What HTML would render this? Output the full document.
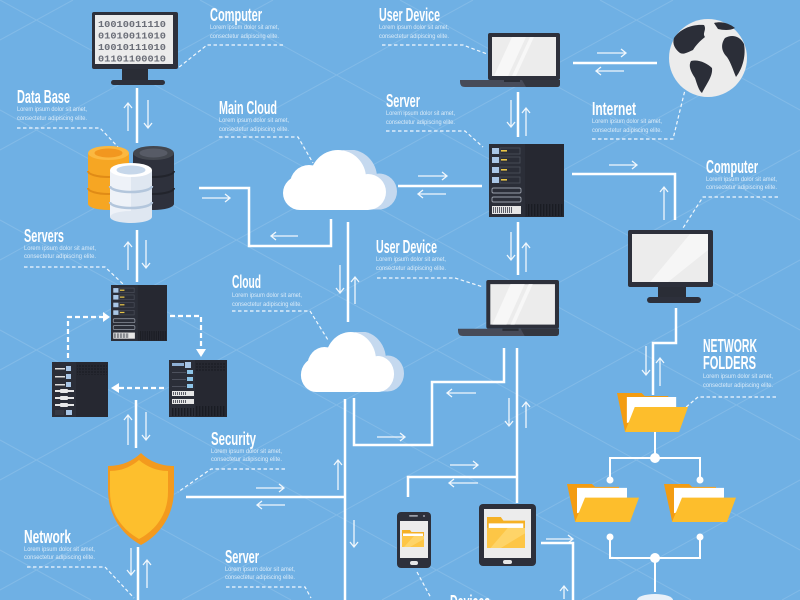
<!DOCTYPE html>
<html>
<head>
<meta charset="utf-8">
<style>
html,body{margin:0;padding:0;width:800px;height:600px;overflow:hidden;background:#6fb0e4;position:relative;}
svg{display:block;overflow:hidden;position:absolute;left:0;top:0;}
.ln{stroke:#fff;stroke-width:2.5;fill:none;stroke-linejoin:miter;}
.ar{stroke:#fff;stroke-width:1.3;fill:none;opacity:.9;}
.dl{stroke:#fff;stroke-width:1.2;fill:none;stroke-dasharray:3.5 2.5;opacity:.9;}
.ds{stroke:#fff;stroke-width:2.2;fill:none;stroke-dasharray:5 3;}
.t{fill:#fff;font-family:"Liberation Sans Narrow","Liberation Sans",sans-serif;font-weight:700;font-size:18px;}
.l{fill:#fff;opacity:.75;font-family:"Liberation Sans Narrow","Liberation Sans",sans-serif;font-size:6.5px;}
.bin{fill:#6b6e78;font-family:"Liberation Mono",monospace;font-weight:700;font-size:9.5px;}
#dev{position:absolute;left:450px;top:588px;width:60px;height:12px;overflow:hidden;}
#dev span{display:block;width:70px;height:12px;color:#fff;font-family:"Liberation Sans",sans-serif;font-weight:700;font-size:18px;line-height:28px;white-space:nowrap;transform:scaleX(0.59);transform-origin:0 0;}
</style>
</head>
<body>
<svg width="800" height="600" viewBox="0 0 800 600" xmlns="http://www.w3.org/2000/svg">
<defs>
  <clipPath id="frame"><rect x="0" y="0" width="800" height="600"/></clipPath>
  <pattern id="vent" width="3" height="20" patternUnits="userSpaceOnUse"><rect width="1.4" height="20" fill="#1a1c23"/></pattern>
  <pattern id="grid" width="3" height="3" patternUnits="userSpaceOnUse"><rect width="2" height="2" fill="#1f2129"/></pattern>
  <pattern id="bcs" width="2" height="20" patternUnits="userSpaceOnUse"><rect width="0.8" height="20" fill="#3a3d48"/></pattern>

  <symbol id="srvA" viewBox="0 0 75 73" preserveAspectRatio="none">
    <rect width="75" height="73" fill="#2b2e38"/>
    <rect x="36" width="39" height="73" fill="#262831"/>
    <rect x="37" y="60" width="37" height="12" fill="url(#vent)"/>
    <g>
      <rect x="3" y="4" width="7" height="6" fill="#a9c6e6"/><rect x="11" y="4" width="20" height="6" fill="none" stroke="#4d515d" stroke-width=".8"/><rect x="12" y="6" width="6" height="1.6" fill="#e8c547"/>
      <rect x="3" y="13" width="7" height="6" fill="#a9c6e6"/><rect x="11" y="13" width="20" height="6" fill="none" stroke="#4d515d" stroke-width=".8"/><rect x="12" y="15" width="6" height="1.6" fill="#e8c547"/>
      <rect x="3" y="23" width="7" height="6" fill="#a9c6e6"/><rect x="11" y="23" width="20" height="6" fill="none" stroke="#4d515d" stroke-width=".8"/><rect x="12" y="25" width="6" height="1.6" fill="#e8c547"/>
      <rect x="3" y="33" width="7" height="6" fill="#a9c6e6"/><rect x="11" y="33" width="20" height="6" fill="none" stroke="#4d515d" stroke-width=".8"/><rect x="12" y="35" width="6" height="1.6" fill="#e8c547"/>
    </g>
    <rect x="3" y="44" width="29" height="5" rx="1.5" fill="none" stroke="#9aa0ab" stroke-width=".9"/>
    <rect x="3" y="53" width="29" height="5" rx="1.5" fill="none" stroke="#9aa0ab" stroke-width=".9"/>
    <rect x="3" y="62" width="29" height="8" fill="#e6e6e6"/>
    <rect x="4" y="63" width="20" height="6" fill="url(#bcs)"/>
  </symbol>

  <symbol id="srvB" viewBox="0 0 56 55" preserveAspectRatio="none">
    <rect width="56" height="55" fill="#2b2e38"/>
    <rect x="24" width="32" height="55" fill="#262831"/>
    <rect x="25" y="2" width="30" height="11" fill="url(#grid)"/>
    <rect x="3" y="6" width="10" height="1.5" fill="#ddd"/><rect x="14" y="4" width="5" height="5" fill="#a9c6e6"/>
    <rect x="3" y="14" width="10" height="1.5" fill="#ddd"/><rect x="14" y="12" width="5" height="5" fill="#a9c6e6"/>
    <rect x="3" y="22" width="10" height="1.5" fill="#ddd"/><rect x="14" y="20" width="5" height="5" fill="#a9c6e6"/>
    <rect x="3" y="28" width="19" height="2" fill="#e8e8e8"/><rect x="8" y="27" width="8" height="4" rx="1" fill="#e8e8e8"/>
    <rect x="3" y="35" width="19" height="2" fill="#e8e8e8"/><rect x="8" y="34" width="8" height="4" rx="1" fill="#e8e8e8"/>
    <rect x="3" y="42" width="19" height="2" fill="#e8e8e8"/><rect x="8" y="41" width="8" height="4" rx="1" fill="#e8e8e8"/>
    <rect x="3" y="48" width="9" height="5" fill="#363944"/><rect x="14" y="48" width="6" height="5" fill="#a9c6e6"/>
  </symbol>

  <symbol id="srvC" viewBox="0 0 58 57" preserveAspectRatio="none">
    <rect width="58" height="57" fill="#2b2e38"/>
    <rect x="26" width="32" height="57" fill="#262831"/>
    <rect x="27" y="2" width="30" height="9" fill="url(#grid)"/>
    <rect x="27" y="46" width="30" height="10" fill="url(#vent)"/>
    <rect x="3" y="3" width="12" height="3" fill="#8fb0d5"/><rect x="16" y="2" width="6" height="6" fill="#a9c6e6"/>
    <rect x="3" y="12" width="14" height="1" fill="#4d515d"/><rect x="18" y="10" width="6" height="4" fill="#8ec5e8"/>
    <rect x="3" y="19" width="14" height="1" fill="#4d515d"/><rect x="18" y="17" width="6" height="4" fill="#8ec5e8"/>
    <rect x="3" y="26" width="14" height="1" fill="#4d515d"/><rect x="18" y="24" width="6" height="4" fill="#8ec5e8"/>
    <rect x="3" y="31" width="22" height="5" fill="#e6e6e6"/><rect x="4" y="32" width="14" height="3" fill="url(#bcs)"/>
    <rect x="3" y="39" width="22" height="5" fill="#e6e6e6"/><rect x="4" y="40" width="14" height="3" fill="url(#bcs)"/>
    <rect x="2" y="48" width="23" height="8" fill="url(#vent)"/>
  </symbol>

  <symbol id="laptop" viewBox="0 0 100 54" preserveAspectRatio="none">
    <rect x="28" y="0" width="72" height="47" rx="2" fill="#2d303b"/>
    <rect x="32" y="4" width="64" height="39" fill="#ececec"/>
    <polygon points="52,4 66,4 48,43 34,43" fill="#f7f7f7"/>
    <polygon points="70,4 74,4 56,43 52,43" fill="#f7f7f7"/>
    <path d="M0,47 H100 V51 Q100,54 97,54 H5 Q0,54 0,49 Z" fill="#474b58"/>
    <path d="M62,47 H100 V51 Q100,54 97,54 H66 Z" fill="#33363f"/>
    <rect x="44" y="47" width="16" height="2" fill="#2a2d35"/>
  </symbol>

  <symbol id="cloud" viewBox="0 0 115 60" preserveAspectRatio="none">
    <g fill="#c5d9ef" transform="translate(11,-0.5)">
      <circle cx="18" cy="43" r="17"/><circle cx="27" cy="34" r="19"/><circle cx="56" cy="28" r="28"/><circle cx="86" cy="42" r="18"/><rect x="18" y="35" width="68" height="25"/>
    </g>
    <g fill="#ffffff">
      <circle cx="18" cy="43" r="17"/><circle cx="27" cy="34" r="19"/><circle cx="56" cy="28" r="28"/><circle cx="86" cy="42" r="18"/><rect x="18" y="35" width="68" height="25"/>
    </g>
  </symbol>

  <symbol id="folder" viewBox="0 0 72 39" preserveAspectRatio="none">
    <path d="M0,0 H25 L28,3 H52 V14 L8,38 Z" fill="#f39c12"/>
    <polygon points="10,4 60,4 60,14 10,30" fill="#ffffff"/>
    <polygon points="18,14 72,14 63,39 8,39" fill="#fdbe2c"/>
  </symbol>

  <symbol id="sfolder" viewBox="0 0 22 17" preserveAspectRatio="none">
    <path d="M0,0 H8 L9.5,2 H22 V17 H0 Z" fill="#f5b125"/>
    <rect x="1" y="3.5" width="20" height="3" fill="#ffffff"/>
    <rect x="0" y="6" width="22" height="11" fill="#fdc646"/>
    <polygon points="12,6 22,6 22,9 8,17 2,17" fill="#fed468"/>
  </symbol>
</defs>

<g clip-path="url(#frame)">
<!-- background diagonal grid (clipped to frame) -->
<g stroke="#ffffff" stroke-width="1" opacity="0.13">
  <path d="M600,0 L800,110 M400,0 L800,220 M200,0 L800,330 M0,0 L800,440 M0,110 L800,550 M0,220 L691,600 M0,330 L491,600 M0,440 L291,600 M0,550 L91,600"/>
  <path d="M0,40 L73,0 M0,150 L273,0 M0,260 L473,0 M0,370 L673,0 M0,480 L800,40 M0,590 L800,150 M182,600 L800,260 M382,600 L800,370 M582,600 L800,480 M782,600 L800,590"/>
</g>

<!-- main connector lines -->
<g class="ln">
  <path d="M137,88 V143"/>
  <path d="M199,188 H249 V246 H331 V219"/>
  <path d="M398,186 H482"/>
  <path d="M518,92 V137"/>
  <path d="M573,63 H657"/>
  <path d="M572,174 H675 V220"/>
  <path d="M137,230 V282"/>
  <path d="M348,222 V322"/>
  <path d="M518,222 V275"/>
  <path d="M504,348 V382 H432 V445 H354 V398"/>
  <path d="M517,348 V503"/>
  <path d="M345,399 V600"/>
  <path d="M186,497 H345"/>
  <path d="M408,497 V477 H517"/>
  <path d="M541,543 H573 V600"/>
  <path d="M136,400 V448"/>
  <path d="M138,547 V600"/>
  <path d="M676,308 V343 H653 V395"/>
</g>

<!-- arrows -->
<g class="ar">
  <path d="M128,131V103M124,108L128,103L132,108"/>
  <path d="M148,100V128M144,123L148,128L152,123"/>
  <path d="M202,198H230M225,194L230,198L225,202"/>
  <path d="M298,236H271M276,232L271,236L276,240"/>
  <path d="M418,176H447M442,172L447,176L442,180"/>
  <path d="M446,194H418M423,190L418,194L423,198"/>
  <path d="M511,100V127M507,122L511,127L515,122"/>
  <path d="M526,136V108M522,113L526,108L530,113"/>
  <path d="M597,53H626M621,49L626,53L621,57"/>
  <path d="M624,71H596M601,67L596,71L601,75"/>
  <path d="M609,165H637M632,161L637,165L632,169"/>
  <path d="M664,220V187M660,192L664,187L668,192"/>
  <path d="M128,270V242M124,247L128,242L132,247"/>
  <path d="M146,240V268M142,263L146,268L150,263"/>
  <path d="M340,265V293M336,288L340,293L344,288"/>
  <path d="M355,304V277M351,282L355,277L359,282"/>
  <path d="M511,232V260M507,255L511,260L515,255"/>
  <path d="M526,272V243M522,248L526,243L530,248"/>
  <path d="M476,393H447M452,389L447,393L452,397"/>
  <path d="M377,437H405M400,433L405,437L400,441"/>
  <path d="M509,398V426M505,421L509,426L513,421"/>
  <path d="M526,428V402M522,407L526,402L530,407"/>
  <path d="M450,465H478M473,461L478,465L473,469"/>
  <path d="M478,483H449M454,479L449,483L454,487"/>
  <path d="M256,488H284M279,484L284,488L279,492"/>
  <path d="M285,505H257M262,501L257,505L262,509"/>
  <path d="M338,490V460M334,465L338,460L342,465"/>
  <path d="M354,520V547M350,542L354,547L358,542"/>
  <path d="M546,539H573M568,535L573,539L568,543"/>
  <path d="M564,599V586M560,591L564,586L568,591"/>
  <path d="M128,445V415M124,420L128,415L132,420"/>
  <path d="M146,412V440M142,435L146,440L150,435"/>
  <path d="M131,548V575M127,570L131,575L135,570"/>
  <path d="M147,588V560M143,565L147,560L151,565"/>
  <path d="M646,346V375M642,370L646,375L650,370"/>
  <path d="M660,386V358M656,363L660,358L664,363"/>
</g>

<!-- dashed label leader lines -->
<g class="dl">
  <path d="M283,45 H207 L178,68"/>
  <path d="M17,128 H100 L118,147"/>
  <path d="M219,137 H298 L313,163"/>
  <path d="M382,45 H463 L487,54"/>
  <path d="M386,131 H465 L483,147"/>
  <path d="M592,139 H673 L685,90"/>
  <path d="M778,197 H703 L683,228"/>
  <path d="M24,267 H105 L123,284"/>
  <path d="M232,311 H310 L328,340"/>
  <path d="M377,278 H455 L483,287"/>
  <path d="M776,397 H698 L685,408"/>
  <path d="M285,469 H211 L178,492"/>
  <path d="M27,567 H105 L134,598"/>
  <path d="M226,587 H305 L311,598"/>
  <path d="M417,572 L431,598"/>
</g>

<!-- dashed server arrows -->
<g class="ds">
  <path d="M68,358 V317 H103"/>
  <path d="M170,316 H201 V350"/>
  <path d="M164,388 H118"/>
</g>
<g fill="#fff">
  <polygon points="103,312 110,317 103,322"/>
  <polygon points="196,349 201,357 206,349"/>
  <polygon points="119,383 111,388 119,393"/>
</g>

<!-- Top-left monitor -->
<rect x="92" y="12" width="86" height="57" rx="2" fill="#2d303b"/>
<rect x="95" y="15" width="78" height="49" fill="#ebebeb"/>
<text class="bin" x="98" y="27" textLength="68" lengthAdjust="spacingAndGlyphs">10010011110</text>
<text class="bin" x="98" y="38.5" textLength="68" lengthAdjust="spacingAndGlyphs">01010011010</text>
<text class="bin" x="98" y="50" textLength="68" lengthAdjust="spacingAndGlyphs">10010111010</text>
<text class="bin" x="98" y="61.5" textLength="68" lengthAdjust="spacingAndGlyphs">01101100010</text>
<rect x="122" y="69" width="26" height="11" fill="#2a2d36"/>
<rect x="111" y="80" width="54" height="5" rx="2.5" fill="#2d303b"/>

<!-- Databases -->
<g>
  <rect x="88" y="153" width="41" height="51" fill="#f6a623"/>
  <ellipse cx="108.5" cy="204" rx="20.5" ry="6" fill="#f6a623"/>
  <path d="M88,171 A20.5,6 0 0 0 129,171 M88,188 A20.5,6 0 0 0 129,188" stroke="#e08b16" stroke-width="2" fill="none"/>
  <ellipse cx="108.5" cy="153" rx="20.5" ry="7" fill="#fbb840"/>
  <ellipse cx="108.5" cy="153" rx="14" ry="4.5" fill="#f2971f"/>

  <rect x="133" y="153" width="41" height="51" fill="#2e313c"/>
  <ellipse cx="153.5" cy="204" rx="20.5" ry="6" fill="#2e313c"/>
  <path d="M133,171 A20.5,6 0 0 0 174,171 M133,188 A20.5,6 0 0 0 174,188" stroke="#22242c" stroke-width="2" fill="none"/>
  <ellipse cx="153.5" cy="153" rx="20.5" ry="7" fill="#43474f"/>
  <ellipse cx="153.5" cy="153" rx="14" ry="4.5" fill="#575b66"/>

  <rect x="110" y="170" width="42" height="47" fill="#eef2f8"/>
  <ellipse cx="131" cy="217" rx="21" ry="6" fill="#dfe7f1"/>
  <rect x="131" y="170" width="21" height="47" fill="#dfe7f1"/>
  <path d="M110,186 A21,6 0 0 0 152,186 M110,202 A21,6 0 0 0 152,202" stroke="#b3c6dc" stroke-width="2.5" fill="none"/>
  <ellipse cx="131" cy="170" rx="21" ry="7" fill="#ffffff"/>
  <ellipse cx="131" cy="170" rx="14.5" ry="4.5" fill="#c6d7ea"/>
</g>

<!-- Clouds -->
<use href="#cloud" x="282" y="150" width="115" height="60"/>
<use href="#cloud" x="300" y="332" width="104" height="60"/>

<!-- Servers -->
<use href="#srvA" x="489" y="144" width="75" height="73"/>
<use href="#srvA" x="111" y="285" width="56" height="56"/>
<use href="#srvB" x="52" y="362" width="56" height="55"/>
<use href="#srvC" x="169" y="360" width="58" height="57"/>

<!-- Laptops -->
<use href="#laptop" x="460" y="33" width="100" height="54"/>
<use href="#laptop" x="458" y="280" width="101" height="56"/>

<!-- Globe -->
<circle cx="708" cy="58" r="39" fill="#ececec"/>
<g fill="#2b2e38">
  <path d="M674,38 C680,29 692,24 704,25 C707,30 702,33 705,37 C700,41 696,45 693,50 C688,52 684,55 680,53 C675,49 672,44 674,38 Z"/>
  <path d="M691,61 C698,59 707,63 712,68 C713,76 707,83 702,93 C699,91 697,84 695,78 C691,72 688,66 691,61 Z"/>
  <path d="M725,38 C732,34 740,36 744,44 C746,55 743,68 736,77 C733,70 731,63 727,57 C722,52 720,45 725,38 Z"/>
  <path d="M714,23 C721,21 729,23 735,28 C729,31 723,30 718,29 Z"/>
</g>

<!-- Right monitor -->
<rect x="628" y="230" width="85" height="57" rx="2" fill="#2d303b"/>
<rect x="632" y="234" width="76" height="48" fill="#ececec"/>
<polygon points="690,234 708,234 708,250 668,282 650,282" fill="#f6f6f6"/>
<rect x="658" y="287" width="28" height="10" fill="#2a2d36"/>
<rect x="647" y="297" width="54" height="6" rx="3" fill="#2d303b"/>

<!-- Folders -->
<use href="#folder" x="617" y="393" width="71" height="39"/>
<use href="#folder" x="567" y="484" width="72" height="38"/>
<use href="#folder" x="664" y="484" width="72" height="38"/>

<!-- folder tree -->
<g stroke="#fff" stroke-width="2" fill="none">
  <path d="M655,432 V458 M610,480 V458 H700 V480"/>
  <path d="M610,537 V558 H700 V537 M655,558 V592"/>
</g>
<g fill="#fff">
  <circle cx="655" cy="458" r="5"/>
  <circle cx="610" cy="480" r="3.5"/>
  <circle cx="700" cy="480" r="3.5"/>
  <circle cx="610" cy="537" r="3.5"/>
  <circle cx="700" cy="537" r="3.5"/>
  <circle cx="655" cy="558" r="5"/>
</g>
<path d="M637,600 A18,6 0 0 1 673,600 Z" fill="#e9f1f9"/>

<!-- Shield -->
<path d="M141,453 C150,462 162,466 174,466 L174,490 C174,515 160,535 141,545 C122,535 108,515 108,490 L108,466 C120,466 132,462 141,453 Z" fill="#f39a1e"/>
<path d="M139,460 C147,467 157,471 168,471 L168,492 C168,514 156,530 139,539 C123,530 110,514 110,492 L110,471 C121,471 131,467 139,460 Z" fill="#fdbf2d"/>

<!-- Phone -->
<rect x="397" y="512" width="34" height="56" rx="4" fill="#2d303b"/>
<rect x="400" y="521" width="28" height="37" fill="#ececec"/>
<rect x="409" y="515" width="9" height="1.8" rx="0.9" fill="#9a9ea8"/>
<circle cx="424" cy="516" r="1" fill="#9a9ea8"/>
<rect x="410" y="561" width="8" height="4" rx="2" fill="#e6e6e6"/>
<use href="#sfolder" x="402" y="530" width="22" height="17"/>

<!-- Tablet -->
<rect x="479" y="504" width="57" height="62" rx="4" fill="#2d303b"/>
<rect x="484" y="509" width="47" height="49" fill="#ececec"/>
<rect x="503" y="560" width="9" height="4" rx="2" fill="#e6e6e6"/>
<use href="#sfolder" x="487" y="517" width="38" height="31"/>

<!-- Labels -->
<g>
  <text class="t" x="210" y="21" textLength="52" lengthAdjust="spacingAndGlyphs">Computer</text>
  <text class="l" x="210" y="29" textLength="69" lengthAdjust="spacingAndGlyphs">Lorem ipsum dolor sit amet,</text>
  <text class="l" x="210" y="38" textLength="69" lengthAdjust="spacingAndGlyphs">consectetur adipiscing elite.</text>

  <text class="t" x="17" y="103" textLength="53" lengthAdjust="spacingAndGlyphs">Data Base</text>
  <text class="l" x="17" y="111" textLength="70" lengthAdjust="spacingAndGlyphs">Lorem ipsum dolor sit amet,</text>
  <text class="l" x="17" y="120" textLength="70" lengthAdjust="spacingAndGlyphs">consectetur adipiscing elite.</text>

  <text class="t" x="219" y="114" textLength="58" lengthAdjust="spacingAndGlyphs">Main Cloud</text>
  <text class="l" x="219" y="122" textLength="70" lengthAdjust="spacingAndGlyphs">Lorem ipsum dolor sit amet,</text>
  <text class="l" x="219" y="131" textLength="70" lengthAdjust="spacingAndGlyphs">consectetur adipiscing elite.</text>

  <text class="t" x="379" y="21" textLength="61" lengthAdjust="spacingAndGlyphs">User Device</text>
  <text class="l" x="379" y="29" textLength="70" lengthAdjust="spacingAndGlyphs">Lorem ipsum dolor sit amet,</text>
  <text class="l" x="379" y="38" textLength="70" lengthAdjust="spacingAndGlyphs">consectetur adipiscing elite.</text>

  <text class="t" x="386" y="107" textLength="34" lengthAdjust="spacingAndGlyphs">Server</text>
  <text class="l" x="386" y="115" textLength="69" lengthAdjust="spacingAndGlyphs">Lorem ipsum dolor sit amet,</text>
  <text class="l" x="386" y="124" textLength="69" lengthAdjust="spacingAndGlyphs">consectetur adipiscing elite.</text>

  <text class="t" x="592" y="115" textLength="44" lengthAdjust="spacingAndGlyphs">Internet</text>
  <text class="l" x="592" y="123" textLength="70" lengthAdjust="spacingAndGlyphs">Lorem ipsum dolor sit amet,</text>
  <text class="l" x="592" y="132" textLength="70" lengthAdjust="spacingAndGlyphs">consectetur adipiscing elite.</text>

  <text class="t" x="706" y="173" textLength="52" lengthAdjust="spacingAndGlyphs">Computer</text>
  <text class="l" x="706" y="181" textLength="71" lengthAdjust="spacingAndGlyphs">Lorem ipsum dolor sit amet,</text>
  <text class="l" x="706" y="189" textLength="71" lengthAdjust="spacingAndGlyphs">consectetur adipiscing elite.</text>

  <text class="t" x="24" y="242" textLength="40" lengthAdjust="spacingAndGlyphs">Servers</text>
  <text class="l" x="24" y="250" textLength="72" lengthAdjust="spacingAndGlyphs">Lorem ipsum dolor sit amet,</text>
  <text class="l" x="24" y="258" textLength="72" lengthAdjust="spacingAndGlyphs">consectetur adipiscing elite.</text>

  <text class="t" x="232" y="288" textLength="29" lengthAdjust="spacingAndGlyphs">Cloud</text>
  <text class="l" x="232" y="297" textLength="70" lengthAdjust="spacingAndGlyphs">Lorem ipsum dolor sit amet,</text>
  <text class="l" x="232" y="306" textLength="70" lengthAdjust="spacingAndGlyphs">consectetur adipiscing elite.</text>

  <text class="t" x="376" y="253" textLength="61" lengthAdjust="spacingAndGlyphs">User Device</text>
  <text class="l" x="376" y="261" textLength="70" lengthAdjust="spacingAndGlyphs">Lorem ipsum dolor sit amet,</text>
  <text class="l" x="376" y="270" textLength="70" lengthAdjust="spacingAndGlyphs">consectetur adipiscing elite.</text>

  <text class="t" x="703" y="352" textLength="54" lengthAdjust="spacingAndGlyphs">NETWORK</text>
  <text class="t" x="703" y="369" textLength="53" lengthAdjust="spacingAndGlyphs">FOLDERS</text>
  <text class="l" x="703" y="378" textLength="70" lengthAdjust="spacingAndGlyphs">Lorem ipsum dolor sit amet,</text>
  <text class="l" x="703" y="387" textLength="70" lengthAdjust="spacingAndGlyphs">consectetur adipiscing elite.</text>

  <text class="t" x="211" y="445" textLength="45" lengthAdjust="spacingAndGlyphs">Security</text>
  <text class="l" x="211" y="453" textLength="71" lengthAdjust="spacingAndGlyphs">Lorem ipsum dolor sit amet,</text>
  <text class="l" x="211" y="461" textLength="71" lengthAdjust="spacingAndGlyphs">consectetur adipiscing elite.</text>

  <text class="t" x="24" y="543" textLength="47" lengthAdjust="spacingAndGlyphs">Network</text>
  <text class="l" x="24" y="551" textLength="71" lengthAdjust="spacingAndGlyphs">Lorem ipsum dolor sit amet,</text>
  <text class="l" x="24" y="559" textLength="71" lengthAdjust="spacingAndGlyphs">consectetur adipiscing elite.</text>

  <text class="t" x="225" y="563" textLength="34" lengthAdjust="spacingAndGlyphs">Server</text>
  <text class="l" x="225" y="571" textLength="70" lengthAdjust="spacingAndGlyphs">Lorem ipsum dolor sit amet,</text>
  <text class="l" x="225" y="579" textLength="70" lengthAdjust="spacingAndGlyphs">consectetur adipiscing elite.</text>
</g>
</g>
</svg>
<div id="dev"><span>Devices</span></div>
</body>
</html>
